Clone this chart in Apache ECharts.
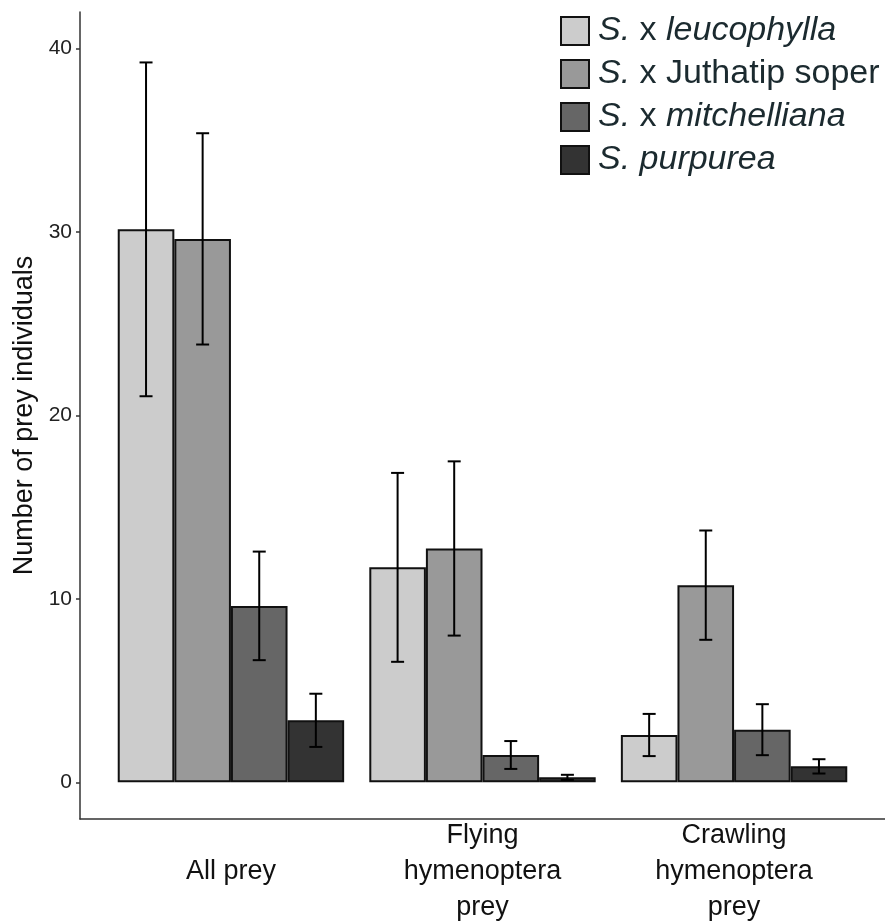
<!DOCTYPE html>
<html>
<head>
<meta charset="utf-8">
<script src="https://cdn.jsdelivr.net/npm/echarts@6/dist/echarts.min.js"></script>
<style>html,body{margin:0;padding:0;background:#fff;}#c{width:885px;height:924px;}</style>
</head>
<body>
<div id="c"></div>
<script>
// ---- data ----
var categories = ['All prey', 'Flying\nhymenoptera\nprey', 'Crawling\nhymenoptera\nprey'];
var seriesNames = ['S. x leucophylla', 'S. x Juthatip soper', 'S. x mitchelliana', 'S. purpurea'];
var leucophyllaMean = [30.15, 11.72, 2.58];
var leucophyllaErr  = [9.1, 5.15, 1.15];
var juthatipMean    = [29.63, 12.75, 10.75];
var juthatipErr     = [5.76, 4.75, 2.98];
var mitchellianaMean = [9.62, 1.49, 2.87];
var mitchellianaErr  = [2.96, 0.76, 1.39];
var purpureaMean    = [3.38, 0.27, 0.87];
var purpureaErr     = [1.45, 0.14, 0.39];
var yTicks = [0, 10, 20, 30, 40];
var catPositions = [1, 2, 3];

var means = [leucophyllaMean, juthatipMean, mitchellianaMean, purpureaMean];
var errs = [leucophyllaErr, juthatipErr, mitchellianaErr, purpureaErr];
var fills = ['#cccccc', '#999999', '#666666', '#333333'];
var dodge = 0.225;

var legendLabels = {
  'S. x leucophylla': '{i|S.}{n| x }{i|leucophylla}',
  'S. x Juthatip soper': '{i|S.}{n| x Juthatip soper}',
  'S. x mitchelliana': '{i|S.}{n| x }{i|mitchelliana}',
  'S. purpurea': '{i|S. purpurea}'
};

var FONT = '"Liberation Sans", Arial, sans-serif';

var series = [];
seriesNames.forEach(function (name, si) {
  series.push({
    name: name,
    type: 'bar',
    barWidth: '22.5%',
    barGap: '0%',
    itemStyle: { color: fills[si], borderColor: '#111', borderWidth: 2 },
    data: catPositions.map(function (c, ci) { return [c, means[si][ci]]; }),
    z: 2
  });
});

var errData = [];
seriesNames.forEach(function (name, si) {
  catPositions.forEach(function (c, ci) {
    errData.push([c, means[si][ci] - errs[si][ci], means[si][ci] + errs[si][ci], si]);
  });
});

series.push({
  type: 'custom',
  name: 'err',
  z: 5,
  encode: { x: 0, y: [1, 2] },
  data: errData,
  renderItem: function (params, api) {
    var cx = api.value(0) + (api.value(3) - 1.5) * dodge;
    var lo = api.coord([cx, api.value(1)]);
    var hi = api.coord([cx, api.value(2)]);
    var hw = 6.5;
    var st = { stroke: '#000', lineWidth: 2, fill: null };
    return {
      type: 'group',
      children: [
        { type: 'line', shape: { x1: lo[0], y1: lo[1], x2: hi[0], y2: hi[1] }, style: st },
        { type: 'line', shape: { x1: hi[0] - hw, y1: hi[1], x2: hi[0] + hw, y2: hi[1] }, style: st },
        { type: 'line', shape: { x1: lo[0] - hw, y1: lo[1], x2: lo[0] + hw, y2: lo[1] }, style: st }
      ]
    };
  }
});

var chart = echarts.init(document.getElementById('c'), null, { renderer: 'canvas' });
chart.setOption({
  animation: false,
  backgroundColor: '#ffffff',
  textStyle: { fontFamily: FONT },
  grid: { left: 80, right: 0, top: 12, bottom: 105, containLabel: false, outerBoundsMode: 'none' },
  legend: {
    data: seriesNames,
    orient: 'vertical',
    left: 560,
    top: 14,
    padding: 0,
    itemWidth: 28,
    itemHeight: 28,
    itemGap: 9,
    icon: 'rect',
    selectedMode: false,
    formatter: function (name) { return legendLabels[name]; },
    textStyle: {
      color: '#1b2a2f',
      fontSize: 34,
      fontFamily: FONT,
      lineHeight: 28,
      padding: [0, 0, 0, 4],
      rich: {
        i: { fontStyle: 'italic', fontSize: 34, color: '#1b2a2f', fontFamily: FONT, lineHeight: 28 },
        n: { fontSize: 34, color: '#1b2a2f', fontFamily: FONT, lineHeight: 28 }
      }
    }
  },
  xAxis: {
    type: 'value',
    min: 0.4,
    max: 3.6,
    splitLine: { show: false },
    axisLine: { show: true, onZero: false, lineStyle: { color: '#333', width: 1.5 } },
    axisTick: { show: false },
    axisLabel: {
      customValues: catPositions,
      margin: 53,
      verticalAlign: 'middle',
      fontSize: 27,
      lineHeight: 36,
      color: '#111',
      fontFamily: FONT,
      formatter: function (v) {
        var idx = Math.round(v) - 1;
        return categories[idx] || '';
      }
    }
  },
  yAxis: {
    type: 'value',
    min: -2,
    max: 42,
    name: 'Number of prey individuals',
    nameLocation: 'middle',
    nameGap: 42,
    nameTextStyle: { fontSize: 27, color: '#111', fontFamily: FONT },
    splitLine: { show: false },
    axisLine: { show: true, lineStyle: { color: '#333', width: 1.5 } },
    axisTick: { show: true, customValues: yTicks, length: 4, lineStyle: { color: '#333', width: 1.5 } },
    axisLabel: { customValues: yTicks, margin: 8, fontSize: 21, color: '#222', fontFamily: FONT }
  },
  series: series
});
</script>
</body>
</html>
